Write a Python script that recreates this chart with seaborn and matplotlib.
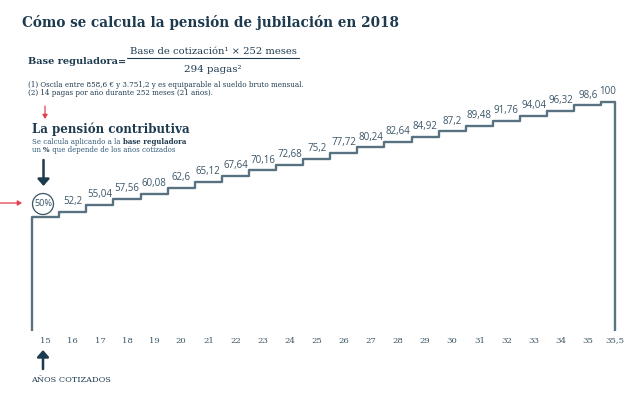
# %%
import matplotlib
matplotlib.use("Agg")
from matplotlib import pyplot as plt
from matplotlib.patches import FancyArrowPatch, Ellipse
from matplotlib.lines import Line2D
import seaborn as sns

# %% Data
years = ["15", "16", "17", "18", "19", "20", "21", "22", "23", "24", "25",
         "26", "27", "28", "29", "30", "31", "32", "33", "34", "35", "35,5"]
pct = [50, 52.2, 55.04, 57.56, 60.08, 62.6, 65.12, 67.64, 70.16, 72.68, 75.2,
       77.72, 80.24, 82.64, 84.92, 87.2, 89.48, 91.76, 94.04, 96.32, 98.6, 100]

# %% Constants
W, H = 640, 396
navy = "#1d3a4f"
slate = "#587282"
label_col = "#3b5567"
blue_txt = "#2f5b7a"
red = "#e2404e"
serif = "DejaVu Serif"
sans = "Open Sans"


def P(x, y):
    # pixel (from top-left) -> figure fraction
    return x / W, 1 - y / H


# %%
sns.set_theme(style="white")
plt.rcParams["font.family"] = [serif]

fig = plt.figure(figsize=(W / 100, H / 100), dpi=100)
fig.patch.set_facecolor("white")

# axes: x index 0 at px 45.7, 27.1 px per year; y 0 at px 331, 2.288 px per %
ax_bottom = 331
ax = fig.add_axes([0, (H - ax_bottom) / H, 1, ax_bottom / H])
ax.set_xlim(-45.7 / 27.1, (W - 45.7) / 27.1)
ax.set_ylim(0, ax_bottom / 2.288)
ax.set_facecolor("none")
sns.despine(ax=ax, left=True, bottom=True)

n = len(pct)
edges = [i - 0.5 for i in range(n)] + [n - 1]
xs = [edges[0]] + edges[:-1] + [edges[-1], edges[-1]]
ys = [0] + pct + [pct[-1], 0]
sns.lineplot(x=xs, y=ys, sort=False, estimator=None, drawstyle="steps-post",
             color=slate, linewidth=1.7, ax=ax)

# value labels
for i, v in enumerate(pct):
    if i == 0:
        continue
    xc = (edges[i] + edges[i + 1]) / 2
    ax.annotate(f"{v:g}".replace(".", ","), (xc, v), xytext=(0, 3.5),
                textcoords="offset points", ha="center", va="bottom",
                fontsize=7, color=label_col, family=sans)
ax.annotate(f"{pct[0]:g}%", (0 - 0.1, pct[0]), xytext=(0, 9.5),
            textcoords="offset points", ha="center", va="center",
            fontsize=6.6, color=label_col, family=sans)

ax.set_xticks(range(n), years)
ax.set_yticks([])
ax.tick_params(axis="x", length=0, pad=4, labelsize=6.1, labelcolor=label_col)
for t in ax.get_xticklabels():
    t.set_family(serif)

# %% Text blocks
fig.text(*P(22, 27), "Cómo se calcula la pensión de jubilación en 2018",
         fontsize=9.8, fontweight="bold", color=navy, va="baseline")
fig.text(*P(28, 63.5), "Base reguladora=", fontsize=7.0, fontweight="bold",
         color=navy, va="baseline")
fig.text(*P(213, 54.5), "Base de cotización¹ × 252 meses", fontsize=7.2,
         color=navy, va="baseline", ha="center")
fig.add_artist(Line2D([127 / W, 299 / W], [1 - 57.7 / H, 1 - 57.7 / H],
                      color=navy, lw=0.8))
fig.text(*P(213, 72), "294 pagas²", fontsize=7.4, color=navy, va="baseline",
         ha="center")
fig.text(*P(28, 85), "(1) Oscila entre 858,6 € y 3.751,2 y es equiparable al sueldo bruto mensual.",
         fontsize=5.1, color=navy, va="center")
fig.text(*P(28, 93), "(2) 14 pagas por año durante 252 meses (21 años).",
         fontsize=5.1, color=navy, va="center")

fig.text(*P(32, 129), "La pensión contributiva", fontsize=8.6,
         fontweight="bold", color=navy, va="center")

renderer = fig.canvas.get_renderer()


def rich_line(x, y, parts, size):
    # parts: list of (text, bold)
    for s, bold in parts:
        t = fig.text(*P(x, y), s, fontsize=size, va="center",
                     color=navy if bold else blue_txt,
                     fontweight="bold" if bold else "normal")
        x += t.get_window_extent(renderer).width


rich_line(32, 142, [("Se calcula aplicando a la ", False),
                    ("base reguladora", True)], 5.0)
rich_line(32, 150, [("un ", False), ("%", True),
                    (" que depende de los años cotizados", False)], 5.0)

fig.text(*P(31, 380), "AÑOS COTIZADOS", fontsize=5.9, color=navy, va="center")

# %% Arrows and circle
def arrow(p0, p1, color, lw, head):
    a = FancyArrowPatch(P(*p0), P(*p1), transform=fig.transFigure,
                        arrowstyle=head, color=color, lw=lw,
                        shrinkA=0, shrinkB=0)
    fig.add_artist(a)


arrow((45, 106), (45, 119), red, 0.9, "-|>,head_length=2.5,head_width=1.5")
arrow((0, 203), (22, 203), red, 0.9, "-|>,head_length=2.5,head_width=1.5")
arrow((43.5, 160), (43.5, 186), navy, 1.8, "-|>,head_length=4,head_width=3.5")
arrow((43, 369), (43, 350), navy, 1.8, "-|>,head_length=4,head_width=3.5")

fig.add_artist(Ellipse(P(43, 204), 21 / W, 21 / H, transform=fig.transFigure,
                       fill=False, edgecolor=label_col, lw=0.9))

plt.savefig("out.png", dpi=100)
plt.close()
